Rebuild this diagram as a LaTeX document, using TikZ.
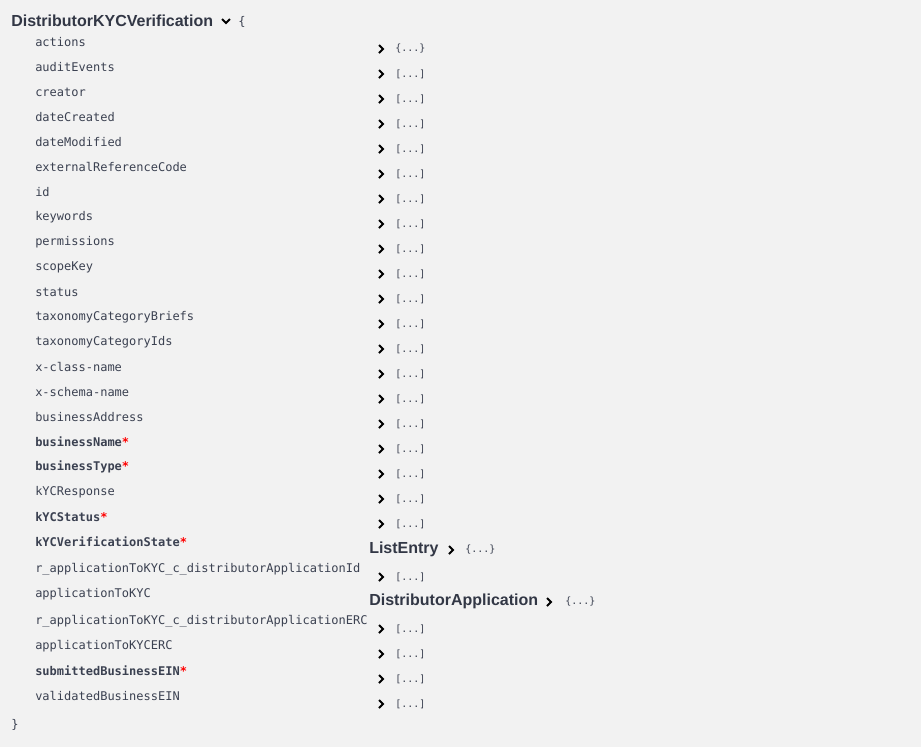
\documentclass[tikz,border=0pt]{standalone}
\usepackage{fontspec}
\setmainfont{Liberation Sans}
\setmonofont{DejaVu Sans Mono}
\definecolor{txt}{HTML}{3B4151}
\definecolor{bg}{HTML}{F2F2F2}
\definecolor{req}{HTML}{FF0000}
\begin{document}
\begin{tikzpicture}[x=0.75pt,y=-0.75pt,
  lab/.style={anchor=west,inner sep=0pt,text=txt,font=\ttfamily\fontsize{9}{10}\selectfont},
  rlab/.style={lab,font=\ttfamily\bfseries\fontsize{9}{10}\selectfont},
  brk/.style={anchor=west,inner sep=0pt,text=txt,font=\ttfamily\fontsize{7.5}{9}\selectfont},
  ttl/.style={anchor=west,inner sep=0pt,text=txt!85!black,font=\bfseries\fontsize{12}{14}\selectfont},
  chev/.style={draw=black,line width=1.4pt}]
\fill[bg] (0,0) rectangle (921,747);
\useasboundingbox (0,0) rectangle (921,747);
\node[ttl] (title) at (11,21) {DistributorKYCVerification};
\draw[chev] (222,19) -- (226,23) -- (230,19);
\node[lab] (ob) at (238,22) {\{};
\node[lab] (cb) at (11,725) {\}};
% left labels
\foreach \t/\y [count=\i] in {actions/42,auditEvents/67,creator/92,dateCreated/117,dateModified/142,externalReferenceCode/167,id/192,keywords/217,permissions/242,scopeKey/267,status/292,taxonomyCategoryBriefs/317,taxonomyCategoryIds/342,x-class-name/367,x-schema-name/392,businessAddress/417,kYCResponse/492,r\_applicationToKYC\_c\_distributorApplicationId/569,applicationToKYC/594,r\_applicationToKYC\_c\_distributorApplicationERC/621,applicationToKYCERC/646,validatedBusinessEIN/696}
  \node[lab] (l\i) at (35,\y) {\t};
\foreach \t/\y [count=\i] in {businessName/442,businessType/467,kYCStatus/517,kYCVerificationState/542,submittedBusinessEIN/671}
  \node[rlab] (r\i) at (35,\y) {\t\textcolor{req}{*}};
% right values
\foreach \y [count=\i] in {74,99,124,149,174,199,224,249,274,299,324,349,374,399,424,449,474,499,524,577,629,654,679,704}{
  \draw[chev] (379,\y-4) -- (383,\y) -- (379,\y+4);
  \node[brk] (v\i) at (395,\y) {[...]};
}
\draw[chev] (379,45) -- (383,49) -- (379,53);
\node[brk] (v0) at (395,49) {\{...\}};
\node[ttl] (le) at (369,549) {ListEntry};
\draw[chev] (449,546) -- (453,550) -- (449,554);
\node[brk] (lev) at (465,550) {\{...\}};
\node[ttl] (da) at (369,601) {DistributorApplication};
\draw[chev] (547,598) -- (551,602) -- (547,606);
\node[brk] (dav) at (565,602) {\{...\}};
\end{tikzpicture}
\end{document}
